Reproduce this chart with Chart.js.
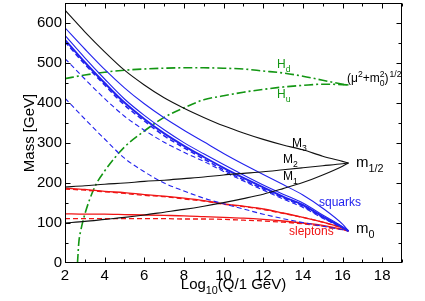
<!DOCTYPE html>
<html>
<head>
<meta charset="utf-8">
<script src="https://cdn.jsdelivr.net/npm/chart.js@4.4.1/dist/chart.umd.min.js"></script>
<style>
  html, body { margin: 0; padding: 0; background: #fff; }
</style>
</head>
<body>
<canvas id="myChart" width="425" height="301"></canvas>
<script>
// running masses vs log10(Q / 1 GeV)
const logQ = [2, 3, 4, 5, 6, 7, 8, 9, 10, 11, 12, 13, 14, 15, 16, 16.3];
const M3 = [632, 578, 528, 482, 445, 413, 387, 364, 343, 325, 309, 295, 283, 267, 254, 250];
const M2 = [190, 193, 197, 200, 204, 207, 211, 215, 220, 224, 228, 233, 238, 243, 248, 250];
const M1 = [100, 104, 109, 114, 120, 127, 134, 142, 151, 161, 172, 186, 201, 220, 242, 250];

// squarks (solid = 1st/2nd family, dashed = 3rd family)
const sqL = [588, 535, 484, 438, 398, 363, 332, 303, 274, 247, 221, 196, 170, 137, 97, 80];
const sqUR = [569, 513, 460, 410, 369, 333, 301, 273, 246, 220, 195, 172, 150, 120, 91, 80];
const sqDR = [558, 502, 450, 401, 360, 324, 293, 265, 238, 213, 189, 166, 145, 116, 89, 80];
const sbR = [553, 497, 445, 395, 355, 318, 288, 260, 233, 208, 185, 163, 142, 114, 88, 80];
const stL = [511, 460, 411, 367, 332, 302, 277, 254, 229, 205, 182, 160, 139, 112, 88, 80];
const stR = [412, 360, 310, 262, 228, 200, 180, 162, 148, 135, 122, 111, 101, 92, 83, 80];

// sleptons
const slL = [187, 184, 179, 176, 171, 167, 162, 156, 148, 142, 135, 125, 114, 102, 87, 80];
const stauL = [185, 182, 178, 174, 169, 166, 160, 155, 147, 141, 134, 124, 114, 102, 87, 80];
const slR = [123, 122, 122, 121, 120, 119, 118, 116, 114, 112, 109, 105, 100, 94, 84, 80];
const stauR = [111, 111, 111, 111, 111, 111, 110, 110, 109, 107, 105, 102, 98, 92, 83, 80];

// Higgs: (mu^2 + m_H^2)^(1/2)
const Hd = [461, 470, 477, 482, 485, 487, 488, 488, 487, 485, 480, 475, 467, 457, 447, 445];
const logQHu = [2.63, 2.7, 2.8, 3, 3.5, 4, 5, 6, 7, 8, 9, 10, 11, 12, 13, 14, 15, 16, 16.3];
const Hu = [0, 53, 82, 122, 190, 230, 290, 330, 364, 388, 408, 418, 427, 434, 440, 444, 447, 446, 445];

const BLACK = "#111";
const BLUE = "#2222ee";
const RED = "#f01414";
const GREEN = "#139613";
const FONT = "Liberation Sans, Arial, sans-serif";

function pts(xs, ys) {
  return xs.map((x, i) => ({ x: x, y: ys[i] }));
}

function line(data, color, width, dash) {
  return {
    data: pts(data[0], data[1]),
    borderColor: color,
    borderWidth: width,
    borderDash: dash || [],
    pointRadius: 0,
    showLine: true,
    fill: false,
    cubicInterpolationMode: "monotone"
  };
}

function rich(ctx, x, y, parts, size) {
  // parts: [text, "n" | "sub" | "sup"]
  parts.forEach(p => {
    let s = size, dy = 0;
    if (p[1] === "sub") { s = size * 0.72; dy = size * 0.3; }
    if (p[1] === "sup") { s = size * 0.72; dy = -size * 0.42; }
    ctx.font = s + "px " + FONT;
    ctx.fillText(p[0], x, y + dy);
    x += ctx.measureText(p[0]).width;
  });
  return x;
}

function richWidth(ctx, parts, size) {
  let w = 0;
  parts.forEach(p => {
    const s = p[1] === "n" ? size : size * 0.72;
    ctx.font = s + "px " + FONT;
    w += ctx.measureText(p[0]).width;
  });
  return w;
}

const decor = {
  id: "decor",
  afterDraw(chart) {
    const { ctx, chartArea: a, scales: { x, y } } = chart;
    ctx.save();
    ctx.strokeStyle = "#000";
    ctx.lineWidth = 1;
    const L = Math.round(a.left) + 0.5, R = Math.round(a.right) - 0.5;
    const T = Math.round(a.top) + 0.5, B = Math.round(a.bottom) - 0.5;
    ctx.strokeRect(L, T, R - L, B - T);

    // inward ticks
    ctx.beginPath();
    for (let v = 2; v <= 19; v++) {
      const px = Math.round(x.getPixelForValue(v)) + 0.5;
      const len = v % 2 === 0 ? 5 : 3;
      ctx.moveTo(px, B); ctx.lineTo(px, B - len);
      ctx.moveTo(px, T); ctx.lineTo(px, T + len);
    }
    for (let v = 50; v <= 600; v += 50) {
      const py = Math.round(y.getPixelForValue(v)) + 0.5;
      const len = v % 100 === 0 ? 5 : 3;
      ctx.moveTo(L, py); ctx.lineTo(L + len, py);
      ctx.moveTo(R, py); ctx.lineTo(R - len, py);
    }
    ctx.stroke();

    // axis titles
    ctx.fillStyle = "#000";
    ctx.textBaseline = "alphabetic";
    ctx.save();
    ctx.translate(34, (a.top + a.bottom) / 2);
    ctx.rotate(-Math.PI / 2);
    ctx.textAlign = "center";
    ctx.font = "15px " + FONT;
    ctx.fillText("Mass [GeV]", 0, 0);
    ctx.restore();

    ctx.textAlign = "left";
    const xt = [["Log", "n"], ["10", "sub"], ["(Q/1 GeV)", "n"]];
    const w = richWidth(ctx, xt, 15);
    rich(ctx, (a.left + a.right) / 2 - w / 2, 289, xt, 15);

    // curve labels
    ctx.fillStyle = "#000";
    rich(ctx, 292, 147, [["M", "n"], ["3", "sub"]], 12);
    rich(ctx, 283, 163, [["M", "n"], ["2", "sub"]], 12);
    rich(ctx, 283, 180, [["M", "n"], ["1", "sub"]], 12);
    rich(ctx, 356, 167, [["m", "n"], ["1/2", "sub"]], 15);
    rich(ctx, 356, 233, [["m", "n"], ["0", "sub"]], 15);
    rich(ctx, 347, 82, [["(\u03bc", "n"], ["2", "sup"], ["+m", "n"], ["0", "sub"]], 12);
    ctx.font = "12px " + FONT;
    let xx = 347 + richWidth(ctx, [["(\u03bc", "n"], ["2", "sup"], ["+m", "n"]], 12);
    ctx.font = (12 * 0.72) + "px " + FONT;
    ctx.fillText("2", xx, 82 - 12 * 0.42);
    xx += ctx.measureText("0").width;
    xx = rich(ctx, xx, 82, [[")", "n"]], 12);
    rich(ctx, xx + 1, 82, [["1/2", "sup"]], 12);

    ctx.fillStyle = BLUE;
    rich(ctx, 319, 206, [["squarks", "n"]], 12);
    ctx.fillStyle = RED;
    rich(ctx, 289, 235, [["sleptons", "n"]], 12);
    ctx.fillStyle = GREEN;
    rich(ctx, 277, 68, [["H", "n"], ["d", "sub"]], 12);
    rich(ctx, 277, 98, [["H", "n"], ["u", "sub"]], 12);
    ctx.restore();
  }
};

const dashQ = [5, 3];
const dashDot = [9, 3, 2, 3];

const myChart = new Chart(document.getElementById("myChart"), {
  type: "scatter",
  data: {
    datasets: [
      line([logQ, M3], BLACK, 1.1),
      line([logQ, M2], BLACK, 1.1),
      line([logQ, M1], BLACK, 1.1),
      line([logQ, sqL], BLUE, 1.1),
      line([logQ, sqUR], BLUE, 1.1),
      line([logQ, sqDR], BLUE, 2),
      line([logQ, sbR], BLUE, 1.5, dashQ),
      line([logQ, stL], BLUE, 1.1, dashQ),
      line([logQ, stR], BLUE, 1.1, dashQ),
      line([logQ, slL], RED, 1.3),
      line([logQ, stauL], RED, 1.3, dashQ),
      line([logQ, slR], RED, 1.3),
      line([logQ, stauR], RED, 1.3, dashQ),
      line([logQ, Hd], GREEN, 1.6, dashDot),
      line([logQHu, Hu], GREEN, 1.6, dashDot)
    ]
  },
  options: {
    responsive: false,
    animation: false,
    layout: { padding: { top: 3, right: 23, left: 0, bottom: 0 } },
    plugins: { legend: { display: false }, tooltip: { enabled: false } },
    scales: {
      x: {
        type: "linear",
        min: 2,
        max: 19,
        grid: { display: false, drawTicks: false },
        border: { display: false },
        afterFit: s => { s.height = 38; s.paddingLeft = 0; s.paddingRight = 0; },
        ticks: {
          stepSize: 1,
          autoSkip: false,
          maxRotation: 0,
          padding: 4,
          color: "#000",
          font: { family: FONT, size: 15 },
          callback: v => (v % 2 === 0 ? v : "")
        }
      },
      y: {
        min: 0,
        max: 650,
        grid: { display: false, drawTicks: false },
        border: { display: false },
        afterFit: s => { s.width = 65; s.paddingTop = 0; s.paddingBottom = 0; },
        ticks: {
          stepSize: 50,
          autoSkip: false,
          padding: 3,
          color: "#000",
          font: { family: FONT, size: 15 },
          callback: v => (v % 100 === 0 && v <= 600 ? v : "")
        }
      }
    }
  },
  plugins: [decor]
});
</script>
</body>
</html>
